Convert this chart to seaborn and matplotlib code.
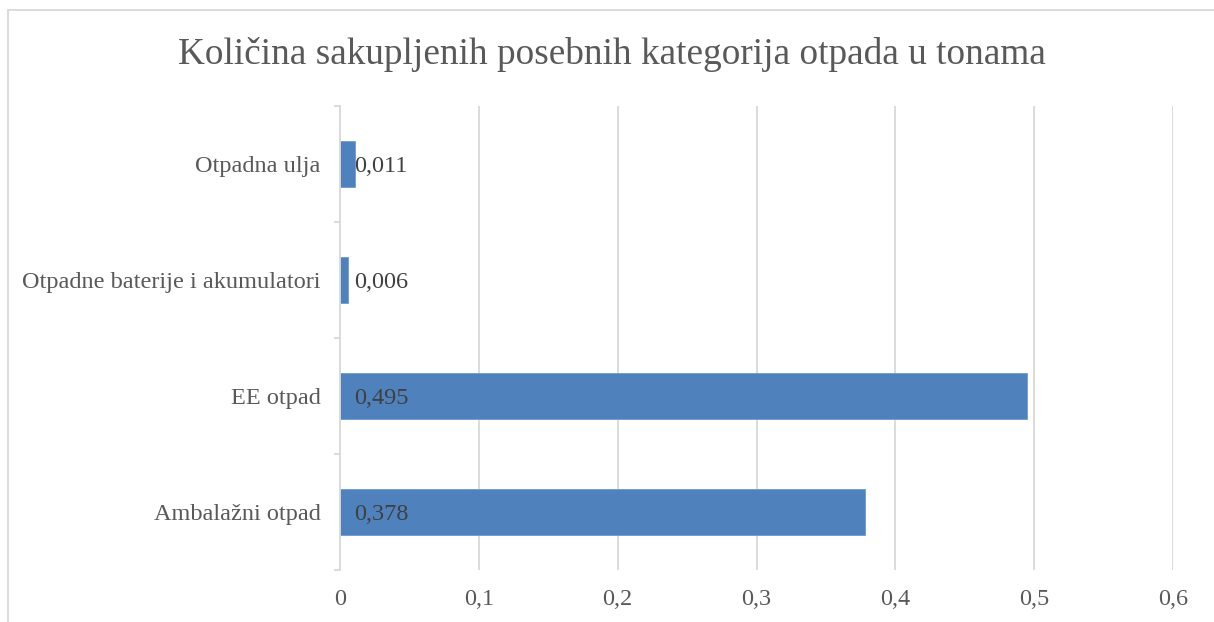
import matplotlib
matplotlib.use("Agg")
import matplotlib.pyplot as plt
import seaborn as sns
import pandas as pd
from matplotlib.patches import Rectangle

# data
categories = ["Otpadna ulja", "Otpadne baterije i akumulatori", "EE otpad", "Ambalažni otpad"]
values = [0.011, 0.006, 0.495, 0.378]
value_labels = ["0,011", "0,006", "0,495", "0,378"]
x_ticks = [0, 0.1, 0.2, 0.3, 0.4, 0.5, 0.6]
x_tick_labels = ["0", "0,1", "0,2", "0,3", "0,4", "0,5", "0,6"]
title = "Količina sakupljenih posebnih kategorija otpada u tonama"

df = pd.DataFrame({"kategorija": categories, "tone": values})

sns.set_theme(style="white")
plt.rcParams["font.family"] = ["Liberation Serif", "DejaVu Serif"]

fig = plt.figure(figsize=(12.14, 6.22), dpi=100)
ax = fig.add_axes([0.2801, 0.0836, 0.6861, 0.746])

sns.barplot(data=df, x="tone", y="kategorija", orient="h", color="#4F81BD",
            saturation=1, width=0.4, edgecolor="#6E9BD1", linewidth=0.6, ax=ax)

# data labels at the inside base of each bar
for i, lab in enumerate(value_labels):
    ax.annotate(lab, xy=(0, i), xytext=(10.5, -1.5), textcoords="offset points",
                ha="left", va="center", fontsize=17.5, color="#404040")

ax.set_xlim(0, 0.6)
ax.set_ylim(len(categories) - 0.5, -0.5)
ax.set_xticks(x_ticks)
ax.set_xticklabels(x_tick_labels)
ax.set_xlabel("")
ax.set_ylabel("")
ax.grid(axis="x", color="#D9D9D9", linewidth=1.3)
ax.set_axisbelow(True)

for s in ["top", "right", "bottom"]:
    ax.spines[s].set_visible(False)
ax.spines["left"].set_color("#D9D9D9")
ax.spines["left"].set_linewidth(1.3)

# category boundary ticks on the left spine
ax.set_yticks([i - 0.5 for i in range(len(categories) + 1)], minor=True)
ax.tick_params(axis="y", which="minor", length=4, width=1.3, color="#D9D9D9", left=True)
ax.tick_params(axis="y", which="major", length=0, pad=14, labelsize=17.5, labelcolor="#595959")
ax.tick_params(axis="x", length=0, pad=14, labelsize=17.5, labelcolor="#595959")

fig.text(0.504, 0.913, title, ha="center", va="center", fontsize=26.8, color="#595959")

# chart frame
fig.patches.append(Rectangle((8 / 1214, -0.1), 1.2, 1.0 - 10 / 622 + 0.1,
                             transform=fig.transFigure, fill=False,
                             edgecolor="#D9D9D9", linewidth=1.3))

fig.savefig("out.png", dpi=100, facecolor="white")
